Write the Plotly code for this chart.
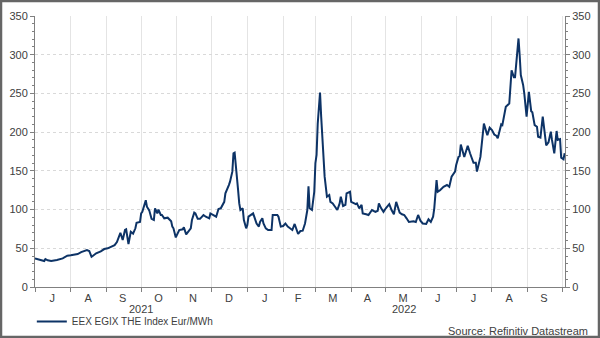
import plotly.graph_objects as go

# Daily index readings (EUR/MWh)
dates = [
    "2021-07-01","2021-07-02","2021-07-04","2021-07-06","2021-07-09","2021-07-10","2021-07-12","2021-07-15",
    "2021-07-17","2021-07-20","2021-07-25","2021-07-29","2021-08-01","2021-08-04","2021-08-07","2021-08-10",
    "2021-08-13","2021-08-15","2021-08-17","2021-08-19","2021-08-20","2021-08-23","2021-08-27","2021-08-30",
    "2021-09-02","2021-09-05","2021-09-08","2021-09-10","2021-09-13","2021-09-15","2021-09-17","2021-09-18",
    "2021-09-20","2021-09-22","2021-09-24","2021-09-26","2021-09-27","2021-09-30","2021-10-01","2021-10-02",
    "2021-10-05","2021-10-06","2021-10-08","2021-10-10","2021-10-12","2021-10-13","2021-10-15","2021-10-16",
    "2021-10-18","2021-10-19","2021-10-21","2021-10-24","2021-10-27","2021-10-28","2021-10-29","2021-10-31",
    "2021-11-01","2021-11-03","2021-11-06","2021-11-07","2021-11-09","2021-11-13","2021-11-14","2021-11-16",
    "2021-11-17","2021-11-19","2021-11-21","2021-11-24","2021-11-26","2021-11-29","2021-11-30","2021-12-03",
    "2021-12-05","2021-12-07","2021-12-09","2021-12-12","2021-12-13","2021-12-16","2021-12-17","2021-12-19",
    "2021-12-20","2021-12-21","2021-12-22","2021-12-24","2021-12-25","2021-12-26","2021-12-28","2021-12-29",
    "2021-12-31","2022-01-01","2022-01-02","2022-01-04","2022-01-06","2022-01-07","2022-01-09","2022-01-11",
    "2022-01-12","2022-01-14","2022-01-15","2022-01-17","2022-01-19","2022-01-22","2022-01-23","2022-01-27",
    "2022-01-28","2022-01-30","2022-02-01","2022-02-03","2022-02-05","2022-02-07","2022-02-09","2022-02-11",
    "2022-02-13","2022-02-14","2022-02-16","2022-02-18","2022-02-20","2022-02-22","2022-02-23","2022-02-24",
    "2022-02-26","2022-02-28","2022-03-01","2022-03-02","2022-03-03","2022-03-05","2022-03-06","2022-03-08",
    "2022-03-09","2022-03-11","2022-03-13","2022-03-14","2022-03-16","2022-03-18","2022-03-20","2022-03-22",
    "2022-03-23","2022-03-25","2022-03-27","2022-03-28","2022-03-30","2022-03-31","2022-04-01","2022-04-03",
    "2022-04-05","2022-04-06","2022-04-08","2022-04-10","2022-04-11","2022-04-14","2022-04-16","2022-04-19",
    "2022-04-22","2022-04-24","2022-04-25","2022-04-27","2022-04-29","2022-05-01","2022-05-04","2022-05-06",
    "2022-05-08","2022-05-10","2022-05-13","2022-05-15","2022-05-17","2022-05-19","2022-05-21","2022-05-25",
    "2022-05-27","2022-05-29","2022-05-31","2022-06-02","2022-06-05","2022-06-07","2022-06-09","2022-06-11",
    "2022-06-12","2022-06-14","2022-06-15","2022-06-17","2022-06-20","2022-06-23","2022-06-25","2022-06-27",
    "2022-06-30","2022-07-01","2022-07-03","2022-07-04","2022-07-05","2022-07-08","2022-07-11","2022-07-13",
    "2022-07-16","2022-07-18","2022-07-19","2022-07-22","2022-07-25","2022-07-28","2022-07-30","2022-08-01",
    "2022-08-03","2022-08-05","2022-08-06","2022-08-09","2022-08-10","2022-08-13","2022-08-15","2022-08-16",
    "2022-08-18","2022-08-20","2022-08-21","2022-08-24","2022-08-25","2022-08-26","2022-08-28","2022-08-29",
    "2022-08-31","2022-09-02","2022-09-04","2022-09-05","2022-09-07","2022-09-09","2022-09-10","2022-09-12",
    "2022-09-14","2022-09-16","2022-09-17","2022-09-19","2022-09-21","2022-09-22","2022-09-24","2022-09-26",
    "2022-09-27","2022-09-29","2022-09-30","2022-10-02","2022-10-03",
]
values = [
    37, 36.5, 35.8, 35, 33.6, 36, 34.5, 33.6,
    34, 35, 37, 40.5, 41, 42, 42.6, 45,
    46.5, 47.8, 46.5, 39, 40, 43.5, 46, 49,
    50, 52, 54, 58, 70, 60.7, 73.6, 74.5,
    55.5, 71.4, 69, 75.8, 83, 84, 95, 97,
    112, 103.7, 99, 88, 86.5, 101.6, 95, 100,
    93, 93, 88.7, 89.5, 85, 78, 75.8, 64,
    67, 73.6, 74.5, 77, 68, 75.8, 86.5, 96,
    95, 88, 88, 93, 90.8, 88.7, 95, 93,
    90.8, 100.7, 101.6, 110, 121, 131.7, 136, 149,
    172.7, 173.5, 160, 125, 108, 99.4, 101.6, 86.5,
    75.8, 80, 90.8, 93, 95, 90.8, 82, 78,
    84, 88.7, 82, 75.8, 73.6, 73.6, 93, 93,
    90.8, 78, 78.8, 82, 78, 75.8, 73.6, 81.4,
    71.4, 68.5, 72.3, 72.7, 82, 99.4, 130, 101.6,
    99.4, 123, 160, 170.5, 211, 251, 220, 177,
    142.5, 116.6, 118.8, 110, 108, 103.7, 99.4, 108,
    116.6, 104.6, 106, 121, 122, 123, 110, 109,
    107, 108, 101.6, 106, 95, 94, 93, 99.4,
    97, 98.5, 108, 101.6, 97, 101.6, 107, 99.4,
    94, 110, 96, 94, 93, 88.7, 84, 85,
    84, 93, 85.6, 82, 81.4, 87.4, 84, 90.8,
    101.6, 138, 123, 125, 129.5, 131.7, 129.5, 142.5,
    149, 157.6, 168, 169, 184, 168, 182.5, 172.7,
    160.5, 160.5, 149, 168, 211, 196, 205.7, 202.7,
    197, 195, 192, 210, 209, 232.8, 235, 237,
    280, 271, 271, 321, 299.6, 273.8, 261, 250,
    220, 252, 227, 225.6, 209, 207, 194, 193,
    220, 196, 183, 187, 200.6, 190, 172.7, 201.5,
    190, 191, 167, 165, 172.7,
]

month_starts = [
    "2021-07-01","2021-08-01","2021-09-01","2021-10-01","2021-11-01","2021-12-01",
    "2022-01-01","2022-02-01","2022-03-01","2022-04-01","2022-05-01","2022-06-01",
    "2022-07-01","2022-08-01","2022-09-01","2022-10-01",
]
month_mids = [
    "2021-07-16","2021-08-16","2021-09-15","2021-10-16","2021-11-15","2021-12-16",
    "2022-01-16","2022-02-14","2022-03-16","2022-04-15","2022-05-16","2022-06-15",
    "2022-07-16","2022-08-16","2022-09-15",
]
month_labels = ["J","A","S","O","N","D","J","F","M","A","M","J","J","A","S"]
year_labels = ["2021", "2022"]
year_pos = ["2021-10-01", "2022-05-17"]
y_ticks = [0, 50, 100, 150, 200, 250, 300, 350]

FONT = "Liberation Sans, Arial, sans-serif"
TXT = "#404040"
AX = "#808080"
LINE = "#0d3366"

W, H = 600, 338
ML, MR, MT, MB = 35, 35, 16, 51
PW, PH = W - ML - MR, H - MT - MB

fig = go.Figure()
fig.add_trace(go.Scatter(
    x=dates, y=values, mode="lines", name="EEX EGIX THE Index Eur/MWh",
    line=dict(color=LINE, width=2), yaxis="y", hoverinfo="skip",
))
fig.add_trace(go.Scatter(
    x=dates, y=values, mode="lines", showlegend=False,
    line=dict(color="rgba(0,0,0,0)", width=0), yaxis="y2", hoverinfo="skip",
))

yaxis_common = dict(
    range=[0, 350], tickvals=y_ticks, ticks="outside", ticklen=4, tickcolor=AX,
    showline=True, linecolor=AX, linewidth=1, zeroline=False,
    tickfont=dict(family=FONT, size=11, color=TXT),
    minor=dict(dtick=10, ticks="outside", ticklen=2, tickcolor=AX, showgrid=False),
)

fig.update_layout(
    width=W, height=H,
    margin=dict(l=ML, r=MR, t=MT, b=MB, pad=0, autoexpand=False),
    paper_bgcolor="white", plot_bgcolor="white",
    font=dict(family=FONT, size=11, color=TXT),
    xaxis=dict(
        type="date", range=["2021-07-01", "2022-10-03 07:00"],
        tickvals=month_mids, ticktext=month_labels,
        ticks="outside", ticklen=1, tickcolor="rgba(0,0,0,0)",
        showgrid=False, showline=True, linecolor=AX, linewidth=1, automargin=False,
        tickfont=dict(family=FONT, size=11, color=TXT),
        minor=dict(tickvals=month_starts, ticks="outside", ticklen=4, tickcolor=AX,
                   showgrid=True, gridcolor="#e4e4e4", gridwidth=1),
    ),
    yaxis=dict(side="left", showgrid=True, gridcolor="#d9d9d9", griddash="dot", gridwidth=1,
               automargin=False, **yaxis_common),
    yaxis2=dict(side="right", overlaying="y", showgrid=False, automargin=False, **yaxis_common),
    showlegend=True,
    legend=dict(x=-0.006, xanchor="left", y=-(321.5 - 287) / PH, yanchor="middle",
                orientation="h", bgcolor="rgba(0,0,0,0)",
                font=dict(family=FONT, size=10, color=TXT), itemwidth=30),
)

for lab, pos in zip(year_labels, year_pos):
    fig.add_annotation(x=pos, xref="x", y=-(309 - 287) / PH, yref="paper",
                       text=lab, showarrow=False, xanchor="center", yanchor="middle",
                       font=dict(family=FONT, size=11, color=TXT))

fig.add_annotation(x=1 + (590 - 565) / PW, xref="paper", y=-(331.5 - 287) / PH, yref="paper",
                   text="Source: Refinitiv Datastream", showarrow=False,
                   xanchor="right", yanchor="middle",
                   font=dict(family=FONT, size=11, color=TXT))

# outer frame
fig.add_shape(type="rect", xref="paper", yref="paper",
              x0=-(ML - 1) / PW, x1=1 + (MR - 1) / PW,
              y0=-(MB - 1) / PH, y1=1 + (MT - 1) / PH,
              line=dict(color="#666666", width=2.5), fillcolor="rgba(0,0,0,0)", layer="above")

fig.write_html("out.html")
